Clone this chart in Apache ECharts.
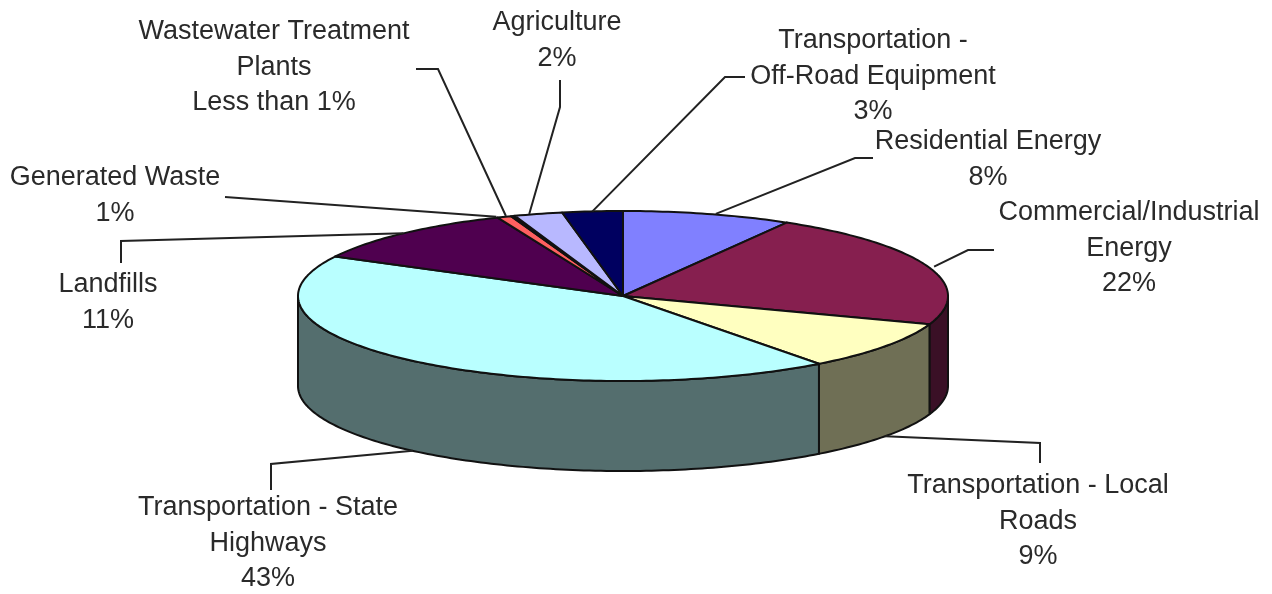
<!doctype html>
<html lang="en" style="height: 100%">
    <head>
        <meta charset="utf-8">
        <title>Emissions by source</title>
        <script src="https://cdn.jsdelivr.net/npm/echarts@6/dist/echarts.min.js"></script>
    </head>
    <body style="height: 100%; margin: 0; background: #fff">
        <div id="draw" style="width: 1272px; height: 594px"></div>
        <script>
            // clockwise from 12 o'clock
            const categories = ['Residential Energy', 'Commercial/Industrial Energy', 'Transportation - Local Roads', 'Transportation - State Highways', 'Landfills', 'Generated Waste', 'Wastewater Treatment Plants', 'Agriculture', 'Transportation - Off-Road Equipment']
            const values = [8.4, 22, 9.3, 43, 11, 0.7, 0.2, 2.4, 3]
            const labels = ['Residential Energy\n8%', 'Commercial/Industrial\nEnergy\n22%', 'Transportation - Local\nRoads\n9%', 'Transportation - State\nHighways\n43%', 'Landfills\n11%', 'Generated Waste\n1%', 'Wastewater Treatment\nPlants\nLess than 1%', 'Agriculture\n2%', 'Transportation -\nOff-Road Equipment\n3%']
            const topColors = ['#8080ff', '#861f4f', '#ffffc0', '#b9ffff', '#4f004f', '#ff6060', '#111111', '#b8b8ff', '#000060']
            const sideColors = ['#40407f', '#3a1026', '#6f6f55', '#546e6e', '#270027', '#7f3030', '#003860', '#5c5c7f', '#000030']

            // pie geometry in px
            const cx = 623, cy = 296, rx = 325, ry = 85, depth = 90

            // label centre, leader elbow points, then the leader runs to the slice mid angle
            const labelPos = [[988, 142], [1129, 213], [1038, 486], [268, 508], [108, 285], [115, 178], [274, 32], [557, 23], [873, 41]]
            const leaders = [
                [[873, 158], [855, 158]],
                [[994, 250], [968, 250]],
                [[1040, 463], [1040, 443]],
                [[271, 490], [271, 464]],
                [[121, 263], [121, 241]],
                [[225, 197]],
                [[416, 69], [438, 69]],
                [[560, 80], [560, 107]],
                [[745, 77], [725, 77]]
            ]
            const leaderOnSide = [false, false, true, true, false, false, false, false, false]
            const leaderShift = [8, 6, 0, 0, 0, -8, -7, -9, 0]

            const total = values.reduce((a, b) => a + b, 0)
            const angles = [0]
            values.forEach((v, i) => angles.push(angles[i] + v / total * 360))

            function ellipsePt(deg, dy) {
                const r = deg * Math.PI / 180
                return [cx + rx * Math.sin(r), cy - ry * Math.cos(r) + dy]
            }
            function arc(from, to, dy) {
                const pts = []
                for (let a = from; a < to; a += 1) pts.push(ellipsePt(a, dy))
                pts.push(ellipsePt(to, dy))
                return pts
            }

            function renderItem(params, api) {
                const i = params.dataIndex
                const a0 = angles[i]
                const a1 = a0 + api.value(0) / total * 360
                const children = []
                const edge = { stroke: '#111', lineWidth: 2, lineJoin: 'round' }

                // only the front half of the rim is visible
                const lo = Math.max(a0, 90), hi = Math.min(a1, 270)
                if (lo < hi) {
                    const side = arc(lo, hi, 0).concat(arc(lo, hi, depth).reverse())
                    children.push({ type: 'polygon', shape: { points: side }, style: { fill: sideColors[i], ...edge } })
                }
                const top = [[cx, cy]].concat(arc(a0, a1, 0))
                children.push({ type: 'polygon', shape: { points: top }, style: { fill: topColors[i], ...edge } })

                const end = ellipsePt((a0 + a1) / 2, leaderOnSide[i] ? depth : 0)
                end[0] += leaderShift[i]
                children.push({
                    type: 'polyline',
                    shape: { points: leaders[i].concat([end]) },
                    style: { fill: null, stroke: '#222', lineWidth: 2 }
                })
                children.push({
                    type: 'text',
                    style: {
                        text: labels[i],
                        x: labelPos[i][0],
                        y: labelPos[i][1] - 18,
                        align: 'center',
                        verticalAlign: 'top',
                        fontFamily: 'Liberation Sans',
                        fontSize: 27,
                        lineHeight: 35.5,
                        fill: '#2a2a2a'
                    }
                })
                return { type: 'group', children: children }
            }

            const myChart = echarts.init(document.getElementById('draw'))
            myChart.setOption({
                animation: false,
                backgroundColor: '#fff',
                series: [{
                    type: 'custom',
                    coordinateSystem: 'none',
                    silent: true,
                    clip: false,
                    renderItem: renderItem,
                    data: values.map((v, i) => ({ name: categories[i], value: [v] }))
                }]
            })
        </script>
    </body>
</html>
